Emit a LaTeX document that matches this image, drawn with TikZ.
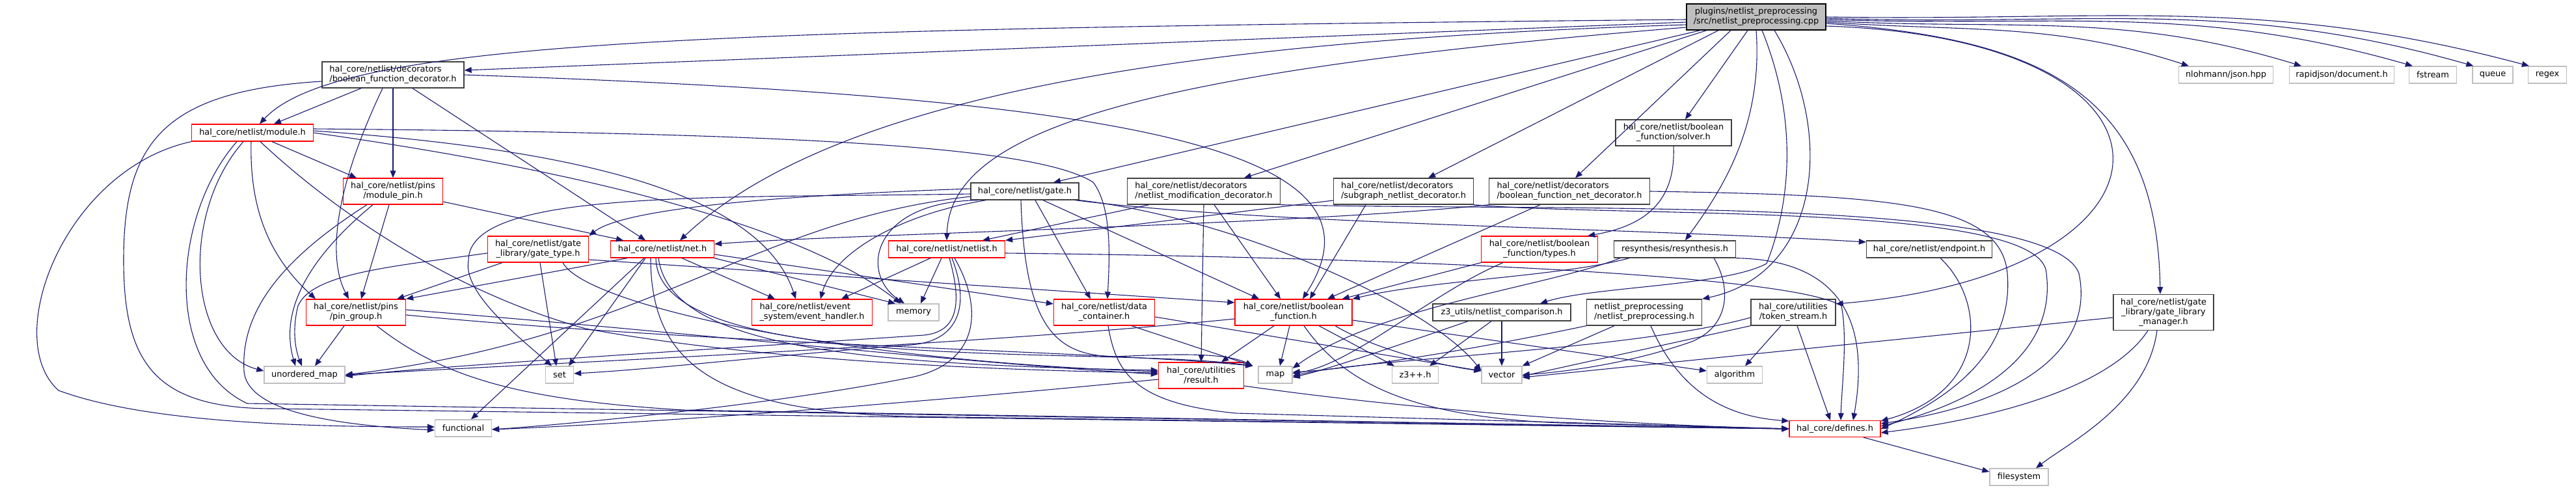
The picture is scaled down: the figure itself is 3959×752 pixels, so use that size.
\documentclass[tikz,border=0pt]{standalone}
\usepackage{fontspec}
\setmainfont{DejaVu Sans}
\usetikzlibrary{arrows.meta}
\definecolor{edgecol}{HTML}{191970}
\definecolor{gtf}{HTML}{404040}
\definecolor{gsf}{HTML}{BFBFBF}
\definecolor{redb}{HTML}{FF0000}
\tikzset{
  box/.style={draw, line width=0.65pt, fill=white, inner sep=0pt, align=center, font=\fontsize{6.45}{7.5}\selectfont},
  rbox/.style={box, draw=redb},
  kbox/.style={box, draw=gtf},
  sbox/.style={box, draw=gsf},
  rootbox/.style={box, draw=black, fill=gsf},
  sz/.style n args={2}{minimum width=#1pt, minimum height=#2pt},
  lk/.style={draw=edgecol, line width=0.55pt, -{Triangle[length=5.5pt,width=4.4pt]}}
}
\begin{document}
\begin{tikzpicture}[x=0.5pt,y=-0.5pt]
\useasboundingbox (0,0) rectangle (3959,752);
% nodes
\node[rootbox, sz={107}{20}] (T) at (2699,26) {plugins/netlist\_preprocessing\\/src/netlist\_preprocessing.cpp};
\node[kbox, sz={109}{20}, align=left] (bfd) at (604,115) {hal\_core/netlist/decorators\\/boolean\_function\_decorator.h};
\node[rbox, sz={93.5}{13}] (mod) at (388,204) {hal\_core/netlist/module.h};
\node[rbox, sz={76.5}{20}] (mpin) at (604,294) {hal\_core/netlist/pins\\/module\_pin.h};
\node[rbox, sz={77.5}{20}] (gtype) at (827,383) {hal\_core/netlist/gate\\\_library/gate\_type.h};
\node[rbox, sz={79.5}{13}] (net) at (1018,383) {hal\_core/netlist/net.h};
\node[rbox, sz={76.5}{20}] (pgrp) at (547,480) {hal\_core/netlist/pins\\/pin\_group.h};
\node[sbox, sz={62}{13}] (umap) at (468,576) {unordered\_map};
\node[sbox, sz={21.5}{13}] (set) at (860,576) {set};
\node[sbox, sz={43.5}{13}] (func) at (712,658) {functional};
\node[kbox, sz={83}{13}] (gate) at (1575,294) {hal\_core/netlist/gate.h};
\node[kbox, sz={117.5}{20}, align=left] (nmd) at (1850,294) {hal\_core/netlist/decorators\\/netlist\_modification\_decorator.h};
\node[rbox, sz={89.5}{13}] (nl) at (1455,383) {hal\_core/netlist/netlist.h};
\node[rbox, sz={92.5}{20}, align=left] (evh) at (1248,480) {hal\_core/netlist/event\\\_system/event\_handler.h};
\node[sbox, sz={39}{13}] (mem) at (1404,480) {memory};
\node[rbox, sz={77.5}{20}] (dc) at (1697,480) {hal\_core/netlist/data\\\_container.h};
\node[rbox, sz={90}{20}] (bf) at (1988,480) {hal\_core/netlist/boolean\\\_function.h};
\node[rbox, sz={65.5}{20}] (res) at (1846,577) {hal\_core/utilities\\/result.h};
\node[sbox, sz={26}{13}] (map) at (1960,576) {map};
\node[kbox, sz={89}{20}] (solver) at (2572,204) {hal\_core/netlist/boolean\\\_function/solver.h};
\node[kbox, sz={107.5}{20}, align=left] (sub) at (2157,294) {hal\_core/netlist/decorators\\/subgraph\_netlist\_decorator.h};
\node[kbox, sz={123.5}{20}, align=left] (bfnet) at (2412,294) {hal\_core/netlist/decorators\\/boolean\_function\_net\_decorator.h};
\node[rbox, sz={89.5}{20}] (types) at (2366,383) {hal\_core/netlist/boolean\\\_function/types.h};
\node[kbox, sz={93.5}{13}] (resyn) at (2574,383) {resynthesis/resynthesis.h};
\node[kbox, sz={96.5}{13}] (endp) at (2965,383) {hal\_core/netlist/endpoint.h};
\node[kbox, sz={106}{13}] (ncmp) at (2308,480) {z3\_utils/netlist\_comparison.h};
\node[kbox, sz={88.5}{20}, align=left] (npp) at (2527,480) {netlist\_preprocessing\\/netlist\_preprocessing.h};
\node[kbox, sz={65}{20}] (tok) at (2756,480) {hal\_core/utilities\\/token\_stream.h};
\node[sbox, sz={35.5}{13}] (z3) at (2175,576) {z3++.h};
\node[sbox, sz={31}{13}] (vec) at (2308,576) {vector};
\node[sbox, sz={42.5}{13}] (alg) at (2666,576) {algorithm};
\node[rbox, sz={70}{12.5}] (def) at (2820,659) {hal\_core/defines.h};
\node[kbox, sz={77}{27.5}] (glm) at (3325,480) {hal\_core/netlist/gate\\\_library/gate\_library\\\_manager.h};
\node[sbox, sz={45}{13}] (fs) at (3103,733) {filesystem};
\node[sbox, sz={72.5}{13}] (json) at (3421,115) {nlohmann/json.hpp};
\node[sbox, sz={80.5}{13}] (rj) at (3599,115) {rapidjson/document.h};
\node[sbox, sz={36.5}{13}] (fst) at (3739,115) {fstream};
\node[sbox, sz={31}{13}] (que) at (3831,115) {queue};
\node[sbox, sz={29.5}{13}] (rgx) at (3915,115) {regex};
% edges from root
\draw[lk] ([yshift=-2pt]T.west) .. controls (1100,45) and (520,60) .. ([xshift=5.5pt]mod.north);
\draw[lk] ([yshift=-4pt]T.west) -- ([yshift=3.5pt]bfd.east);
\draw[lk] ([yshift=-6pt]T.west) .. controls (1900,60) and (1300,130) .. ([xshift=13.5pt]net.north);
\draw[lk] ([yshift=-8pt]T.west) .. controls (1750,110) and (1460,200) .. (nl.north);
\draw[lk] ([xshift=-43pt]T.south) -- ([xshift=22pt]gate.north);
\draw[lk] ([xshift=-38pt]T.south) -- ([xshift=31pt]nmd.north);
\draw[lk] ([xshift=-29pt]T.south) -- ([xshift=19pt]sub.north);
\draw[lk] ([xshift=-19.5pt]T.south) -- ([xshift=4.5pt]bfnet.north);
\draw[lk] ([xshift=-6.5pt]T.south) -- ([xshift=9pt]solver.north);
\draw[lk] (T.south) .. controls (2710,200) and (2640,300) .. ([xshift=8pt]resyn.north);
\draw[lk] ([xshift=4.5pt]T.south) .. controls (2770,200) and (2745,330) .. (2715,405) .. controls (2650,440) and (2450,440) .. ([xshift=29.5pt]ncmp.north);
\draw[lk] ([xshift=14pt]T.south) .. controls (2820,200) and (2800,420) .. (npp.north east);
\draw[lk] ([yshift=-7pt]T.east) .. controls (3400,60) and (3380,420) .. ([yshift=6.5pt]tok.east);
\draw[lk] ([yshift=-5pt]T.east) .. controls (3150,60) and (3315,150) .. ([xshift=-2.5pt]glm.north);
\draw[lk] ([yshift=-4pt]T.east) to[out=-4,in=162] ([xshift=8pt]json.north west);
\draw[lk] ([yshift=-3pt]T.east) to[out=-3,in=163] ([xshift=9.5pt]rj.north west);
\draw[lk] ([yshift=-2pt]T.east) to[out=-2,in=164] ([xshift=3pt]fst.north west);
\draw[lk] ([yshift=-1pt]T.east) to[out=-2,in=164] ([xshift=1pt]que.north west);
\draw[lk] (T.east) to[out=-1,in=165] ([xshift=1pt]rgx.north west);
% boolean_function_decorator
\draw[lk] ([xshift=-24.5pt]bfd.south) -- ([xshift=16.5pt]mod.north);
\draw[lk] (bfd.south) -- (mpin.north);
\draw[lk] ([xshift=15pt]bfd.south) -- ([xshift=-13pt]net.north);
\draw[lk] ([xshift=-8pt]bfd.south) .. controls (510,300) and (505,400) .. ([xshift=-5.5pt]pgrp.north);
\draw[lk] (bfd.east) .. controls (1750,150) and (2150,230) .. ([xshift=7pt]bf.north);
\draw[lk] ([yshift=-5pt]bfd.west) .. controls (250,140) and (190,220) .. (190,400) .. controls (190,560) and (240,628) .. (420,628) -- (def.west);
% module
\draw[lk] ([xshift=15pt]mod.south) -- ([xshift=-28pt]mpin.north);
\draw[lk] ([xshift=-1pt]mod.south) .. controls (383,330) and (420,400) .. ([xshift=-31pt]pgrp.north);
\draw[lk] ([yshift=3pt]mod.east) .. controls (1300,205) and (1600,230) .. (1680,280) .. controls (1710,320) and (1705,400) .. ([xshift=2.5pt]dc.north);
\draw[lk] ([yshift=1.5pt]mod.east) .. controls (900,230) and (1170,300) .. ([xshift=-12.5pt]evh.north);
\draw[lk] (mod.east) .. controls (950,270) and (1250,360) .. ([xshift=-10pt]mem.north);
\draw[lk] ([xshift=-7pt]mod.south) .. controls (275,330) and (290,540) .. ([yshift=3pt]umap.west);
\draw[lk] (mod.south west) .. controls (100,260) and (0,520) .. (90,600) .. controls (220,648) and (450,656) .. ([yshift=1pt]func.west);
\draw[lk] ([xshift=6pt]mod.south) .. controls (520,330) and (700,450) .. (900,505) .. controls (1200,560) and (1600,570) .. ([yshift=2pt]res.west);
\draw[lk] ([xshift=-12pt]mod.south) .. controls (265,330) and (250,560) .. (380,620) -- (def.west);
% module_pin
\draw[lk] ([yshift=-8pt]mpin.east) -- ([xshift=-30pt]net.north);
\draw[lk] ([xshift=-3pt]mpin.south) -- ([xshift=4pt]pgrp.north);
\draw[lk] ([xshift=-15.5pt]mpin.south) .. controls (470,400) and (430,480) .. ([xshift=-7pt]umap.north);
\draw[lk] ([xshift=-20pt]mpin.south) .. controls (430,400) and (370,480) .. (375,570) .. controls (380,640) and (550,655) .. ([yshift=-1.5pt]func.west);
% gate_type
\draw[lk] ([yshift=-3pt]gtype.west) .. controls (600,410) and (480,420) .. (458,470) .. controls (448,510) and (455,540) .. ([xshift=-2pt]umap.north);
\draw[lk] ([xshift=-27.5pt]gtype.south) -- ([xshift=-7pt]pgrp.north east);
\draw[lk] ([xshift=1.5pt]gtype.south) -- ([xshift=-2.5pt]set.north);
\draw[lk] ([yshift=-8pt]gtype.east) -- ([yshift=7.5pt]bf.west);
\draw[lk] ([xshift=19pt]gtype.south) .. controls (900,470) and (1300,555) .. ([yshift=3pt]res.west);
% net
\draw[lk] ([xshift=-27pt]net.south) -- (pgrp.north east);
\draw[lk] ([xshift=-13pt]net.south) -- ([xshift=7pt]set.north);
\draw[lk] ([xshift=-14pt]net.south) -- ([xshift=6pt]func.north);
\draw[lk] ([xshift=15pt]net.south) -- ([xshift=-28.5pt]evh.north);
\draw[lk] (net.south east) -- ([xshift=-14pt]mem.north);
\draw[lk] ([yshift=-4pt]net.east) -- ([yshift=6.5pt]dc.west);
\draw[lk] ([xshift=-3pt]net.south) .. controls (1030,530) and (1300,560) .. ([yshift=4pt]res.west);
\draw[lk] ([xshift=-5pt]net.south) .. controls (1010,580) and (1700,530) .. ([xshift=-4pt]map.north west);
\draw[lk] ([xshift=-9pt]net.south) .. controls (1000,560) and (1100,632) .. (1400,640) -- (def.west);
% gate
\draw[lk] ([yshift=2pt]gate.west) .. controls (1200,300) and (960,320) .. (gtype.north east);
\draw[lk] ([xshift=-30pt]gate.south) .. controls (1380,330) and (1280,390) .. ([xshift=6.5pt]evh.north);
\draw[lk] ([xshift=-36pt]gate.south) .. controls (1340,310) and (1320,420) .. ([xshift=-7pt]mem.north);
\draw[lk] ([xshift=8pt]gate.south) -- ([xshift=-10.5pt]dc.north);
\draw[lk] ([xshift=14pt]gate.south) -- ([xshift=-26.5pt]bf.north);
\draw[lk] ([yshift=-2pt]gate.west) .. controls (1100,305) and (720,290) .. (720,400) .. controls (710,450) and (800,520) .. ([xshift=-6pt]set.north);
\draw[lk] ([yshift=-4pt]gate.west) .. controls (1150,340) and (1000,520) .. (umap.east);
\draw[lk] ([xshift=-3pt]gate.south) .. controls (1575,500) and (1620,545) .. (1710,548) .. controls (1790,545) and (1880,540) .. ([xshift=-4pt]map.north west);
\draw[lk] (gate.south east) .. controls (1900,335) and (2200,470) .. ([yshift=3pt]vec.west);
\draw[lk] ([xshift=-3pt]gate.south east) .. controls (1950,345) and (2500,350) .. ([yshift=5.5pt]endp.west);
% netlist_modification_decorator
\draw[lk] (nmd.south) -- (res.north);
\draw[lk] ([xshift=8pt]nmd.south) -- ([xshift=-10pt]bf.north);
\draw[lk] ([xshift=-42pt]nmd.south) -- ([xshift=27.5pt]nl.north);
\draw[lk] (nmd.south east) .. controls (2400,325) and (3150,300) .. (3195,420) .. controls (3220,540) and (3100,620) .. ([yshift=4pt]def.east);
% netlist
\draw[lk] ([xshift=-12.5pt]nl.south) -- ([xshift=22.5pt]evh.north);
\draw[lk] ([xshift=-4pt]nl.south) -- ([xshift=5.5pt]mem.north);
\draw[lk] ([xshift=2pt]nl.south) .. controls (1480,470) and (1470,510) .. (1420,515) .. controls (1200,530) and (700,560) .. ([yshift=-1pt]umap.east);
\draw[lk] ([xshift=4pt]nl.south) .. controls (1495,480) and (1465,525) .. (1400,530) .. controls (1200,545) and (1000,568) .. ([yshift=1pt]set.east);
\draw[lk] ([xshift=6pt]nl.south) .. controls (1515,480) and (1500,560) .. (1400,580) .. controls (1200,620) and (900,650) .. ([yshift=-1pt]func.east);
\draw[lk] ([yshift=-3pt]nl.east) .. controls (2100,395) and (2750,420) .. (2830,470) .. controls (2840,520) and (2830,600) .. ([xshift=4.5pt]def.north);
% data_container
\draw[lk] ([xshift=21pt]dc.south) -- ([xshift=-4pt]map.north west);
\draw[lk] ([xshift=3pt]dc.south) .. controls (1715,570) and (1740,620) .. (1900,635) -- (def.west);
\draw[lk] ([yshift=-3.5pt]dc.east) -- ([yshift=3pt]vec.west);
% boolean_function
\draw[lk] ([xshift=-15pt]bf.south) -- ([xshift=15.5pt]res.north);
\draw[lk] ([xshift=-3pt]bf.south) -- ([xshift=3.5pt]map.north);
\draw[lk] ([xshift=19.5pt]bf.south) -- ([xshift=2pt]z3.north west);
\draw[lk] ([xshift=32pt]bf.south) .. controls (2100,530) and (2200,560) .. ([yshift=3pt]vec.west);
\draw[lk] ([yshift=-6pt]bf.east) -- ([yshift=3pt]alg.west);
\draw[lk] ([xshift=8pt]bf.south) .. controls (2060,580) and (2150,640) .. (2400,650) -- (def.west);
\draw[lk] ([yshift=-5pt]bf.west) .. controls (1500,530) and (900,555) .. (umap.east);
% result
\draw[lk] ([yshift=-8pt]res.east) .. controls (2100,620) and (2400,650) .. (def.west);
\draw[lk] ([yshift=-3pt]res.west) .. controls (1400,620) and (1000,650) .. ([yshift=-1pt]func.east);
% pin_group
\draw[lk] ([xshift=-9pt]pgrp.south) -- ([xshift=8pt]umap.north);
\draw[lk] ([yshift=2pt]pgrp.east) .. controls (1000,505) and (1500,560) .. ([yshift=1pt]res.west);
\draw[lk] ([yshift=-2pt]pgrp.east) .. controls (1100,530) and (1700,540) .. ([xshift=-4pt]map.north west);
\draw[lk] ([xshift=16pt]pgrp.south) .. controls (680,580) and (800,615) .. (1050,630) -- (def.west);
% types
\draw[lk] (types.south west) -- ([xshift=-8pt]bf.north east);
\draw[lk] ([xshift=-28pt]types.south) .. controls (2200,450) and (2080,560) .. ([yshift=1pt]map.east);
% resynthesis
\draw[lk] ([xshift=-35pt]resyn.south) .. controls (2400,425) and (2200,430) .. (bf.north east);
\draw[lk] ([xshift=-42pt]resyn.south) .. controls (2380,440) and (2120,470) .. ([yshift=5pt]map.east);
\draw[lk] ([xshift=30pt]resyn.south) .. controls (2660,440) and (2660,500) .. (2600,525) .. controls (2500,560) and (2400,572) .. (vec.east);
\draw[lk] (resyn.south east) .. controls (2850,400) and (2870,520) .. ([xshift=14pt]def.north);
% subgraph
\draw[lk] ([yshift=-7pt]sub.west) -- (nl.north east);
\draw[lk] ([xshift=-29pt]sub.south) -- ([xshift=12.5pt]bf.north);
\draw[lk] (sub.south east) .. controls (2500,335) and (3140,310) .. (3145,420) .. controls (3160,540) and (3050,615) .. ([yshift=2pt]def.east);
% boolean_function_net_decorator
\draw[lk] (bfnet.south west) .. controls (2000,345) and (1300,360) .. ([yshift=4pt]net.east);
\draw[lk] ([xshift=-22.5pt]bfnet.south) -- ([xshift=26pt]bf.north);
\draw[lk] (bfnet.east) .. controls (2900,300) and (3075,310) .. (3085,420) .. controls (3095,540) and (3000,610) .. (def.east);
% netlist_comparison
\draw[lk] ([xshift=-8pt]ncmp.south) -- ([xshift=11pt]z3.north);
\draw[lk] (ncmp.south) -- (vec.north);
\draw[lk] ([xshift=-26pt]ncmp.south) .. controls (2150,530) and (2050,565) .. ([yshift=-2pt]map.east);
% netlist_preprocessing.h
\draw[lk] ([xshift=-23pt]npp.south) -- (vec.north east);
\draw[lk] ([xshift=5pt]npp.south) .. controls (2580,600) and (2650,640) .. ([yshift=6pt]def.west);
\draw[lk] (npp.south west) .. controls (2300,530) and (2100,565) .. ([yshift=2pt]map.east);
% token_stream
\draw[lk] ([xshift=-9.5pt]tok.south) -- ([xshift=8pt]alg.north);
\draw[lk] (tok.south west) -- ([yshift=-1pt]vec.east);
\draw[lk] ([xshift=3pt]tok.south) -- ([xshift=-3.5pt]def.north);
\draw[lk] ([yshift=-4pt]tok.west) .. controls (2500,540) and (2100,550) .. ([yshift=-1pt]map.east);
% gate_library_manager
\draw[lk] ([xshift=-12pt]glm.south) .. controls (3240,600) and (3050,645) .. ([yshift=-3pt]def.east);
\draw[lk] ([xshift=-5pt]glm.south) .. controls (3300,620) and (3180,680) .. ([xshift=13pt]fs.north);
\draw[lk] ([yshift=-4pt]glm.west) -- ([yshift=-2pt]vec.east);
% endpoint, defines, solver
\draw[lk] ([xshift=8.5pt]endp.south) .. controls (3050,460) and (3060,600) .. ([yshift=6pt]def.east);
\draw[lk] ([xshift=22pt]def.south) -- ([yshift=4pt]fs.west);
\draw[lk] (solver.south) .. controls (2575,300) and (2540,345) .. ([xshift=-8pt]types.north east);
\end{tikzpicture}
\end{document}
